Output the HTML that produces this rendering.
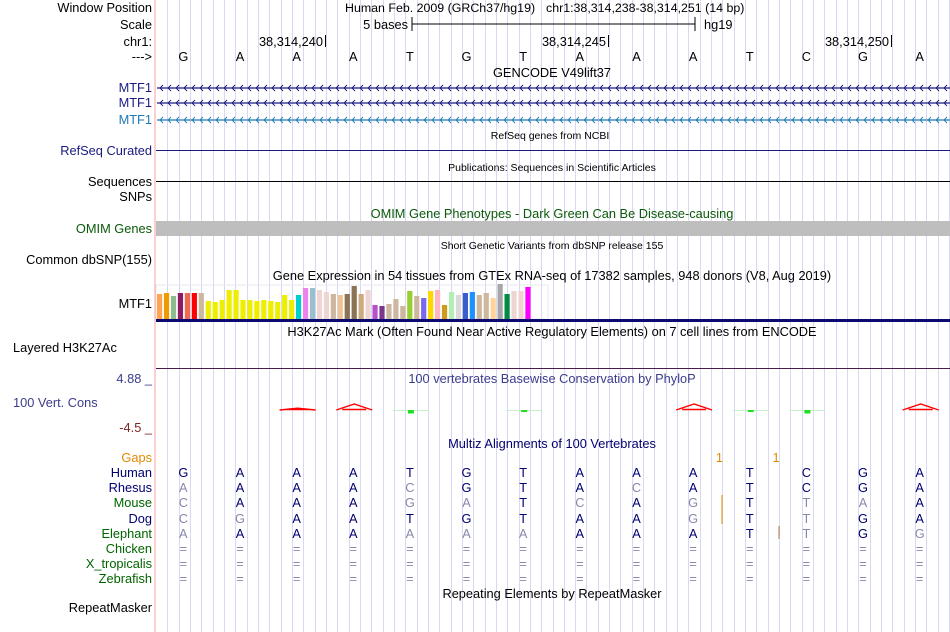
<!DOCTYPE html>
<html><head><meta charset="utf-8"><style>
body{margin:0;background:#fff;}
svg{display:block;font-family:"Liberation Sans",sans-serif;}
</style></head><body>
<svg id="c" width="950" height="632" viewBox="0 0 950 632" xmlns="http://www.w3.org/2000/svg">
<g id="grid"></g>
<line x1="155" y1="0" x2="155" y2="632" stroke="#f4a0a0" stroke-width="1"/>
<g font-size="12.8" text-anchor="end" fill="#000">
<text x="152" y="12">Window Position</text>
<text x="152" y="29">Scale</text>
<text x="152" y="46">chr1:</text>
<text x="152" y="61">---&gt;</text>
<text x="152" y="92" fill="#1a1a80">MTF1</text>
<text x="152" y="107" fill="#1a1a80">MTF1</text>
<text x="152" y="124" fill="#1e78b4">MTF1</text>
<text x="152" y="155" fill="#1a1a80">RefSeq Curated</text>
<text x="152" y="186">Sequences</text>
<text x="152" y="201">SNPs</text>
<text x="152" y="233" fill="#0a5a0a">OMIM Genes</text>
<text x="152" y="264">Common dbSNP(155)</text>
<text x="152" y="308">MTF1</text>
<text x="13" y="352" text-anchor="start">Layered H3K27Ac</text>
<text x="152" y="383" fill="#3c3c8c">4.88 _</text>
<text x="13" y="407" text-anchor="start" fill="#3c3c8c">100 Vert. Cons</text>
<text x="152" y="432" fill="#7a2a2a">-4.5 _</text>
<text x="152" y="462" fill="#e08a00">Gaps</text>
<text x="152" y="477" fill="#000070">Human</text>
<text x="152" y="492" fill="#000070">Rhesus</text>
<text x="152" y="507" fill="#006400">Mouse</text>
<text x="152" y="523" fill="#000070">Dog</text>
<text x="152" y="538" fill="#006400">Elephant</text>
<text x="152" y="553" fill="#006400">Chicken</text>
<text x="152" y="568" fill="#006400">X_tropicalis</text>
<text x="152" y="583" fill="#006400">Zebrafish</text>
<text x="152" y="612">RepeatMasker</text>
</g>
<g font-size="12.8" text-anchor="middle">
<text x="345" y="12" text-anchor="start" font-size="12.4">Human Feb. 2009 (GRCh37/hg19)</text>
<text x="546" y="12" text-anchor="start" font-size="12.4">chr1:38,314,238-38,314,251 (14 bp)</text>
<text x="552" y="77">GENCODE V49lift37</text>
<text x="550" y="139" font-size="10.5">RefSeq genes from NCBI</text>
<text x="552" y="171" font-size="10.5">Publications: Sequences in Scientific Articles</text>
<text x="552" y="218" fill="#0a5a0a">OMIM Gene Phenotypes - Dark Green Can Be Disease-causing</text>
<text x="552" y="249" font-size="10.5">Short Genetic Variants from dbSNP release 155</text>
<text x="552" y="280">Gene Expression in 54 tissues from GTEx RNA-seq of 17382 samples, 948 donors (V8, Aug 2019)</text>
<text x="552" y="336">H3K27Ac Mark (Often Found Near Active Regulatory Elements) on 7 cell lines from ENCODE</text>
<text x="552" y="383" fill="#3c3c8c">100 vertebrates Basewise Conservation by PhyloP</text>
<text x="552" y="448" fill="#000070">Multiz Alignments of 100 Vertebrates</text>
<text x="552" y="598">Repeating Elements by RepeatMasker</text>
</g>
<g>
<text x="408" y="29" font-size="12.8" text-anchor="end">5 bases</text>
<line x1="412" y1="24" x2="695" y2="24" stroke="#000"/>
<line x1="412" y1="17" x2="412" y2="31" stroke="#000"/>
<line x1="695" y1="17" x2="695" y2="31" stroke="#000"/>
<text x="704" y="29" font-size="12.8">hg19</text>
</g>
<g font-size="12.8" text-anchor="end">
<text x="323" y="46">38,314,240</text><line x1="325.5" y1="35" x2="325.5" y2="47" stroke="#000"/>
<text x="606" y="46">38,314,245</text><line x1="608.5" y1="35" x2="608.5" y2="47" stroke="#000"/>
<text x="889" y="46">38,314,250</text><line x1="891.5" y1="35" x2="891.5" y2="47" stroke="#000"/>
</g>
<g id="bases" font-size="12.8" text-anchor="middle"></g>
<g id="genes"></g>
<line x1="156" y1="150.5" x2="950" y2="150.5" stroke="#1a1a80"/>
<line x1="156" y1="181.5" x2="950" y2="181.5" stroke="#000"/>
<rect x="156" y="221" width="794" height="15" fill="#bebebe"/>
<rect x="156" y="285" width="392" height="34" fill="none" stroke="#e8e8f0"/>
<g id="gtex"></g>
<rect x="156" y="319" width="794" height="3" fill="#0a0a70"/>
<line x1="156" y1="368.5" x2="950" y2="368.5" stroke="#4a1a4a"/>
<g id="cons"></g>
<g id="maf" font-size="12.8" text-anchor="middle"></g>
</svg>
<script>
const bases = ["G","A","A","A","T","G","T","A","A","A","T","C","G","A"];
const gtexValues = [25,26,23,26,26,26,26,18,17,19,29,29,19,19,18,19,18,17,24,19,24,31,31,29,27,25,24,25,33,25,29,14,13,15,20,13,28,23,21,28,29,14,27,24,26,27,24,26,21,35,25,28,28,32];
const gtexColors = ["#FFA54F","#EE9A00","#8FBC8F","#8B1C62","#EE6A50","#FF0000","#CDB79E","#EEEE00","#EEEE00","#EEEE00","#EEEE00","#EEEE00","#EEEE00","#EEEE00","#EEEE00","#EEEE00","#EEEE00","#EEEE00","#EEEE00","#EEEE00","#00CED1","#EE82EE","#9AC0CD","#EED5D2","#EED5D2","#CDB79E","#EEC591","#8B7355","#8B7355","#CDAA7D","#EED5D2","#B452CD","#7A378B","#CDB79E","#CDB79E","#CDB79E","#9ACD32","#CDB79E","#7B68EE","#FFD700","#FFB6C1","#CD9B1D","#B4EEB4","#D9D9D9","#3A5FCD","#1E90FF","#CDB79E","#CDB79E","#FFD39B","#A6A6A6","#008B45","#EED5D2","#EED5D2","#FF00FF"];
const phylop = [0,0,0.3,1.0,-0.5,0,-0.3,0,0,1.0,-0.3,-0.5,0,1.0];
const rhesus = ["A","A","A","A","C","G","T","A","C","A","T","C","G","A"];
const mouse = ["C","A","A","A","G","A","T","C","A","G","T","T","A","A"];
const dog = ["C","G","A","A","T","G","T","A","A","G","T","T","G","A"];
const elephant = ["A","A","A","A","A","A","A","A","A","A","T","T","G","G"];
const gapCounts = [0,0,0,0,0,0,0,0,0,1,1,0,0,0];

const NS="http://www.w3.org/2000/svg";
const x0=156, bw=793/14;
const bx=i=>x0+bw*(i+0.5)-1;
function mk(tag,attrs,parent){const e=document.createElementNS(NS,tag);for(const k in attrs)e.setAttribute(k,attrs[k]);parent.appendChild(e);return e;}
const grid=document.getElementById('grid');
for(let k=1;k<=70;k++){const x=Math.round(x0+k*bw/5)+0.5;mk('line',{x1:x,y1:0,x2:x,y2:632,stroke:'#d8d8f4'},grid);}
const bg=document.getElementById('bases');
bases.forEach((b,i)=>{const t=mk('text',{x:bx(i),y:61},bg);t.textContent=b;

});
const genes=document.getElementById('genes');
[[88,'#1a1a80'],[103,'#1a1a80'],[120,'#1e78b4']].forEach(([y,c],j)=>{
 const g=mk('g',{},genes);
 
 
 mk('line',{x1:157,y1:y,x2:950,y2:y,stroke:c,'stroke-width':1.3},g);
 let d='';for(let x=160;x<950;x+=8){d+=`M${x+3},${y-3}L${x},${y}L${x+3},${y+3}`;}
 mk('path',{d:d,stroke:c,fill:'none','stroke-width':0.9},g);
});
const gt=document.getElementById('gtex');
const gMax=35, gBase=319, gH=35, gStep=6.95;
gtexValues.forEach((v,i)=>{const h=v/gMax*gH;const r=mk('rect',{x:157+i*gStep,y:gBase-h,width:5.2,height:h,fill:gtexColors[i]},gt);

});
const cons=document.getElementById('cons');
const cy=410, cs=6;
phylop.forEach((v,i)=>{const c=bx(i)+1;
 if(v>0){const p=mk('path',{d:`M${c-18},${cy}L${c},${cy-v*cs}L${c+18},${cy}M${c-12},${cy-0.5}L${c+12},${cy-0.5}`,fill:'none',stroke:'#f00','stroke-width':1.4},cons);
  
  }
 else if(v<0){mk('line',{x1:c-18,y1:cy+0.5,x2:c+18,y2:cy+0.5,stroke:'#c8f0c8'},cons);
  const r=mk('rect',{x:c-3,y:cy,width:6,height:-v*7,fill:'#22dd22'},cons);
  
  }
});
const maf=document.getElementById('maf');
function row(arr,y,name,ref){arr.forEach((b,i)=>{const same=!ref||b===bases[i];
 const t=mk('text',{x:bx(i),y:y,fill:same&&b!=='='?'#000070':'#8888aa'},maf);t.textContent=b;
 
 });}
row(bases,477,'human',false);
row(rhesus,492,'rhesus',true);
row(mouse,507,'mouse',true);
row(dog,523,'dog',true);
row(elephant,538,'elephant',true);
const eq=bases.map(()=>'=');
row(eq,553,'chicken',true);row(eq,568,'xtropicalis',true);row(eq,583,'zebrafish',true);
gapCounts.forEach((g,i)=>{if(g>0){const x=bx(i)+bw/2-2;const t=mk('text',{x:x,y:462,fill:'#e08a00'},maf);t.textContent=g;
 
 }});
mk('line',{x1:722,y1:495,x2:722,y2:524,stroke:'#e08a00'},maf);
mk('line',{x1:779,y1:526,x2:779,y2:539,stroke:'#b07a40'},maf);
</script>
</body></html>
